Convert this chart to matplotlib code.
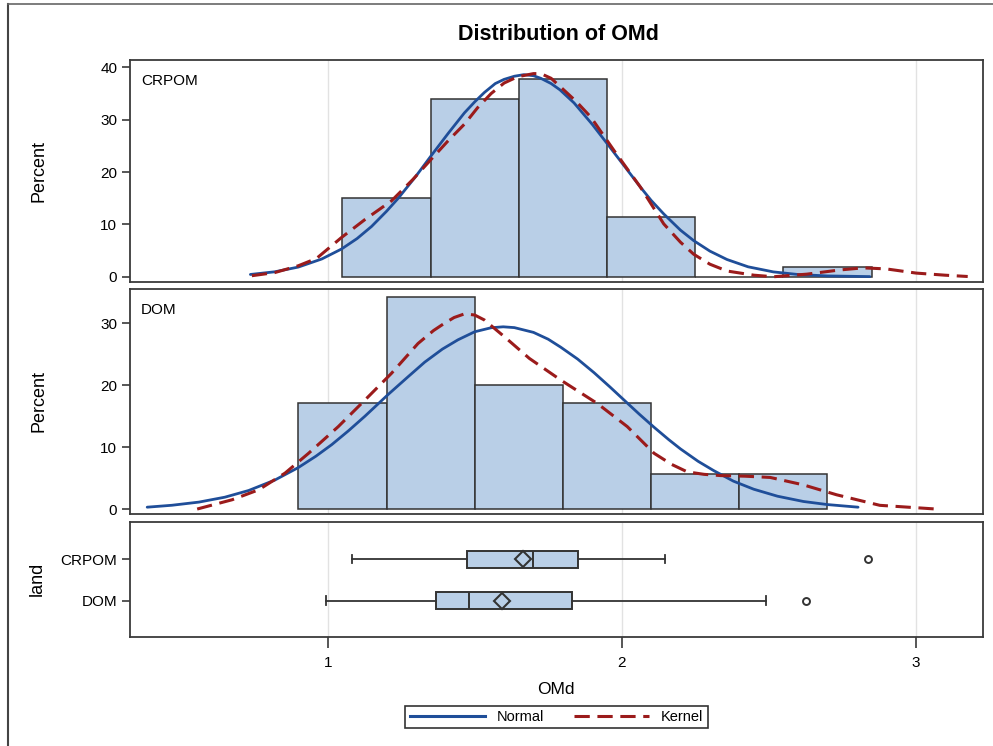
import matplotlib
matplotlib.use("Agg")
import matplotlib.pyplot as plt
from matplotlib.lines import Line2D

plt.rcParams["font.family"] = ["Liberation Sans", "DejaVu Sans"]

# ---- data ----
crpom_edges = [1.05, 1.35, 1.65, 1.95, 2.25, 2.55, 2.85]
crpom_pct = [15.09, 33.96, 37.74, 11.32, 0.0, 1.89]
dom_edges = [0.9, 1.2, 1.5, 1.8, 2.1, 2.4, 2.7]
dom_pct = [17.14, 34.29, 20.0, 17.14, 5.71, 5.71]

crpom_norm_x = [0.737, 0.82, 0.90, 0.98, 1.047, 1.10, 1.149, 1.20, 1.24, 1.30, 1.353, 1.41, 1.465,
                1.50, 1.533, 1.57, 1.60, 1.635, 1.667, 1.70, 1.725, 1.76, 1.79, 1.838, 1.90,
                1.951, 2.00, 2.064, 2.10, 2.143, 2.20, 2.245, 2.30, 2.358, 2.43, 2.516, 2.60,
                2.70, 2.844]
crpom_norm_y = [0.44, 0.95, 1.85, 3.4, 5.3, 7.3, 9.6, 12.5, 15.0, 19.2, 23.2, 27.4, 31.3,
                33.4, 35.2, 36.9, 37.7, 38.3, 38.6, 38.4, 37.9, 36.9, 35.7, 33.2, 29.1,
                25.4, 21.8, 17.1, 14.6, 12.0, 8.9, 6.9, 4.9, 3.3, 1.9, 0.93, 0.43,
                0.16, 0.03]
crpom_kern_x = [0.742, 0.82, 0.90, 0.962, 1.047, 1.126, 1.217, 1.29, 1.353, 1.41, 1.466, 1.51,
                1.556, 1.60, 1.646, 1.70, 1.725, 1.76, 1.793, 1.845, 1.895, 1.974, 2.064, 2.143,
                2.20, 2.245, 2.30, 2.358, 2.45, 2.516, 2.63, 2.742, 2.821, 2.90, 3.002, 3.10,
                3.177]
crpom_kern_y = [0.2, 0.8, 2.1, 3.5, 7.5, 10.9, 14.5, 18.6, 22.5, 26.0, 29.2, 32.3,
                35.0, 37.0, 38.2, 38.8, 38.8, 37.9, 36.2, 33.5, 30.5, 24.1, 17.1, 10.1,
                6.6, 4.3, 2.4, 1.1, 0.3, 0.0, 0.5, 1.3, 1.7, 1.5, 0.7, 0.3,
                0.05]

dom_norm_x = [0.386, 0.47, 0.562, 0.65, 0.731, 0.82, 0.90, 0.96, 1.014, 1.07, 1.126, 1.206, 1.27,
              1.33, 1.39, 1.443, 1.50, 1.556, 1.597, 1.635, 1.70, 1.75, 1.793, 1.85, 1.906, 1.96,
              2.019, 2.06, 2.11, 2.16, 2.20, 2.26, 2.313, 2.38, 2.449, 2.53, 2.618, 2.70, 2.804]
dom_norm_y = [0.3, 0.61, 1.12, 1.91, 2.99, 4.67, 6.69, 8.53, 10.4, 12.6, 14.95, 18.5, 21.2,
              23.7, 25.8, 27.3, 28.6, 29.25, 29.4, 29.27, 28.5, 27.4, 26.1, 24.2, 22.0, 19.7,
              17.1, 15.3, 13.2, 11.2, 9.7, 7.7, 6.2, 4.5, 3.2, 2.07, 1.22, 0.72, 0.3]
dom_kern_x = [0.556, 0.675, 0.765, 0.855, 0.935, 1.036, 1.127, 1.217, 1.307, 1.36, 1.398, 1.43,
              1.466, 1.50, 1.533, 1.601, 1.686, 1.793, 1.918, 2.019, 2.11, 2.17, 2.223, 2.28,
              2.336, 2.42, 2.505, 2.618, 2.731, 2.878, 3.07]
dom_kern_y = [0.0, 1.5, 3.1, 5.8, 9.0, 13.3, 17.6, 21.9, 26.7, 28.8, 30.0, 30.9,
              31.5, 31.3, 30.5, 27.8, 24.3, 20.8, 17.0, 13.3, 9.0, 7.2, 6.0, 5.6,
              5.4, 5.3, 5.1, 3.9, 2.3, 0.6, 0.0]

groups = ["DOM", "CRPOM"]
box_whislo = [0.994, 1.082]
box_q1 = [1.370, 1.473]
box_med = [1.481, 1.698]
box_q3 = [1.831, 1.851]
box_whishi = [2.490, 2.147]
box_mean = [1.594, 1.663]
box_fliers = [[2.628], [2.837]]

# ---- style ----
FILL = "#b9cfe7"
EDGE = "#333333"
BLUE = "#1f4e99"
RED = "#9b1b1b"
GRID = "#e2e2e2"
SPINE = "#3a3a3a"
FS = 11
DASH = (0, (5, 2.5))

W, H = 993, 746
fig = plt.figure(figsize=(W / 100, H / 100), dpi=100)

def rect(l, t, r, b):
    return [l / W, 1 - b / H, (r - l) / W, (b - t) / H]

ax1 = fig.add_axes(rect(129.7, 60, 983.3, 282))
ax2 = fig.add_axes(rect(129.7, 289, 983.3, 514))
ax3 = fig.add_axes(rect(129.7, 522, 983.3, 637))

XLIM = (0.3265, 3.23)

def style(ax):
    ax.set_xlim(*XLIM)
    for s in ax.spines.values():
        s.set_color(SPINE)
        s.set_linewidth(1.3)
    for gx in [1, 2, 3]:
        ax.axvline(gx, color=GRID, lw=1, zorder=0)
    ax.tick_params(axis="y", direction="out", length=6, width=1.2, color=SPINE,
                   labelsize=FS, pad=3)

def hist_panel(ax, edges, pct, nx, ny, kx, ky, label, ylim, yticks):
    style(ax)
    ax.bar(edges[:-1], pct, width=[b - a for a, b in zip(edges[:-1], edges[1:])],
           align="edge", color=FILL, edgecolor=EDGE, linewidth=1.1, zorder=2)
    ax.plot(nx, ny, color=BLUE, lw=2.0, zorder=3, solid_capstyle="round",
            solid_joinstyle="round")
    ax.plot(kx, ky, color=RED, lw=2.2, ls=DASH, zorder=4)
    ax.set_ylim(*ylim)
    ax.set_yticks(yticks)
    ax.tick_params(axis="x", bottom=False, labelbottom=False)
    ax.text(0.013, 0.905, label, transform=ax.transAxes, ha="left", va="center", fontsize=FS)

hist_panel(ax1, crpom_edges, crpom_pct, crpom_norm_x, crpom_norm_y, crpom_kern_x, crpom_kern_y,
           "CRPOM", (-1.0, 41.4), [0, 10, 20, 30, 40])
hist_panel(ax2, dom_edges, dom_pct, dom_norm_x, dom_norm_y, dom_kern_x, dom_kern_y,
           "DOM", (-0.8, 35.5), [0, 10, 20, 30])

# ---- box plot panel ----
style(ax3)
stats = []
for i, g in enumerate(groups):
    stats.append(dict(label=g, whislo=box_whislo[i], q1=box_q1[i], med=box_med[i],
                      q3=box_q3[i], whishi=box_whishi[i], mean=box_mean[i],
                      fliers=box_fliers[i]))
ax3.bxp(stats, positions=[1, 2], widths=0.42, orientation="horizontal", patch_artist=True,
        showmeans=True, capwidths=0.2,
        boxprops=dict(facecolor=FILL, edgecolor=EDGE, linewidth=1.4),
        medianprops=dict(color=EDGE, linewidth=1.4),
        whiskerprops=dict(color=EDGE, linewidth=1.3),
        capprops=dict(color=EDGE, linewidth=1.3),
        meanprops=dict(marker="D", markerfacecolor="none", markeredgecolor=EDGE,
                       markersize=8, markeredgewidth=1.5),
        flierprops=dict(marker="o", markerfacecolor="none", markeredgecolor=EDGE,
                        markersize=5, markeredgewidth=1.4))
ax3.set_ylim(0.12, 2.9)
ax3.set_xlim(*XLIM)
ax3.set_yticks([1, 2])
ax3.set_yticklabels(groups)
ax3.set_xticks([1, 2, 3])
ax3.tick_params(axis="x", direction="out", length=8, width=1.2, color=SPINE,
                labelsize=FS, pad=6)

# ---- labels ----
fig.text(558 / W, 1 - 35 / H, "Distribution of OMd", ha="center", va="center",
         fontsize=15.5, fontweight="bold")
fig.text(39 / W, 1 - 171 / H, "Percent", rotation=90, ha="center", va="center", fontsize=13)
fig.text(39 / W, 1 - 401 / H, "Percent", rotation=90, ha="center", va="center", fontsize=13)
fig.text(37 / W, 1 - 579 / H, "land", rotation=90, ha="center", va="center", fontsize=13)
fig.text(556 / W, 1 - 690 / H, "OMd", ha="center", va="center", fontsize=12.5)

handles = [Line2D([], [], color=BLUE, lw=2.2),
           Line2D([], [], color=RED, lw=2.2, ls=DASH)]
leg = fig.legend(handles, ["Normal", "Kernel"], loc="center",
                 bbox_to_anchor=(556.5 / W, 1 - 717 / H), ncol=2, frameon=True,
                 fancybox=False, edgecolor="black", fontsize=10.5, handlelength=5.2,
                 columnspacing=2.0, borderpad=0.3, handletextpad=0.8)
leg.get_frame().set_linewidth(1.2)

# outer frame (left and top edges visible)
fig.add_artist(Line2D([8 / W, 8 / W], [0, 1 - 4 / H], transform=fig.transFigure,
                      color="#444444", lw=1.5))
fig.add_artist(Line2D([8 / W, 1], [1 - 4 / H, 1 - 4 / H], transform=fig.transFigure,
                      color="#666666", lw=1.2))

fig.savefig("out.png", dpi=100)
